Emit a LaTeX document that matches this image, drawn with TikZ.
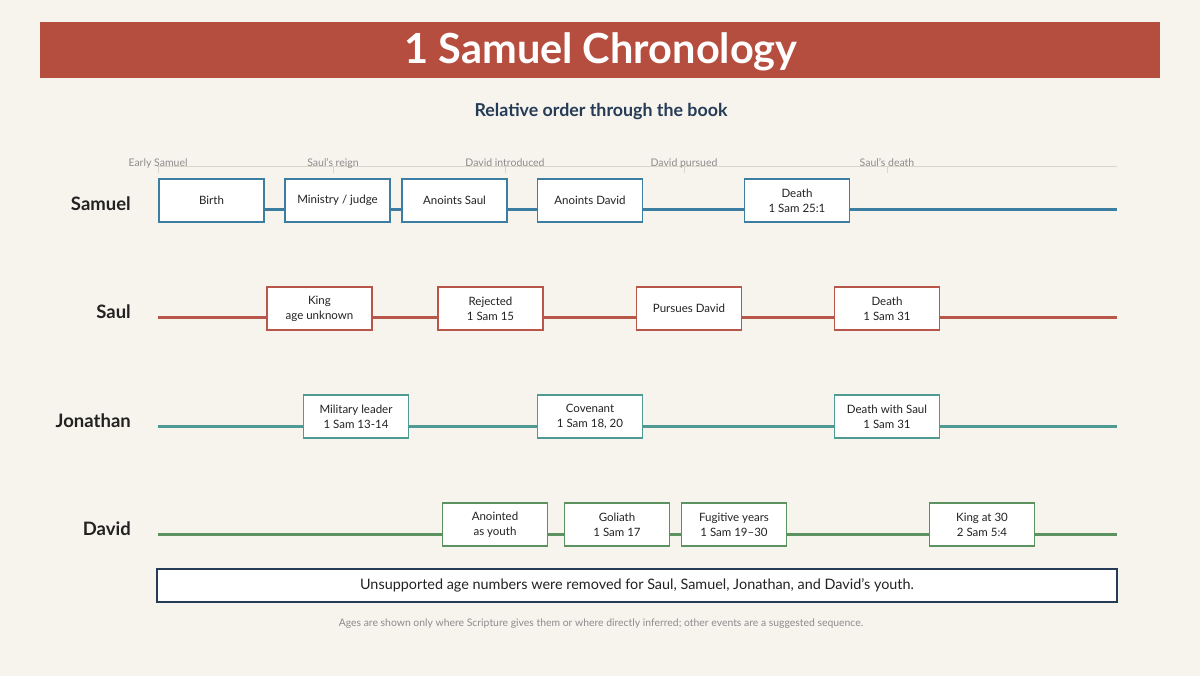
\documentclass[tikz,border=0pt]{standalone}
\usepackage{fontspec}
\setmainfont{Lato}
\definecolor{paper}{HTML}{F7F4EE}
\definecolor{banner}{HTML}{B64E40}
\definecolor{navy}{HTML}{253B56}
\definecolor{ink}{HTML}{222222}
\definecolor{rule}{HTML}{D9D5CB}
\definecolor{faint}{HTML}{8C8C8C}
\definecolor{samcol}{HTML}{3B7EA1}
\definecolor{saulcol}{HTML}{B9564A}
\definecolor{joncol}{HTML}{4F9A93}
\definecolor{davcol}{HTML}{5C9160}
\tikzset{
  event/.style={draw=#1, line width=1.5pt, fill=white, minimum width=105pt,
    minimum height=43pt, inner sep=2pt, align=center,
    font=\fontsize{11.5}{15}\selectfont, text=ink},
  lane/.style={draw=#1, line width=3pt},
  who/.style={anchor=base east, inner sep=0pt, font=\fontsize{18.5}{20}\selectfont\bfseries, text=ink},
}
\begin{document}
\begin{tikzpicture}[x=1pt,y=-1pt]
    \fill[paper] (0,0) rectangle (1200,676);
    \fill[banner] (40,22) rectangle (1160,78);
    \node[anchor=base, text=white, font=\fontsize{41.5}{44}\selectfont\bfseries] (title) at (601,64) {1 Samuel Chronology};
    \node[anchor=base, text=navy, font=\fontsize{17.8}{20}\selectfont\bfseries] (subtitle) at (601,117) {Relative order through the book};
    % phase axis
    \coordinate (axS) at (157,167);
    \coordinate (axE) at (1117,167);
    \draw[rule, line width=1pt] (axS) -- (axE);
    \foreach \x/\lbl in {158/Early Samuel, 333/Saul's reign, 505/David introduced, 684/David pursued, 887/Saul's death}
      \draw[rule, line width=1pt] (\x,167)--(\x,173) node[pos=0, anchor=base, yshift=0pt, text=faint, font=\fontsize{10.5}{12}\selectfont] {\lbl};
    % lanes
    \node[who] (samuel) at (131,211) {Samuel};
    \node[who] (saul) at (131,319) {Saul};
    \node[who] (jonathan) at (131,427) {Jonathan};
    \node[who] (david) at (131,535) {David};
    \foreach \y/\c/\n in {210/samcol/sam, 318/saulcol/saul, 426/joncol/jon, 534/davcol/dav} {
      \coordinate (\n S) at (158,\y);
      \coordinate (\n E) at (1117,\y);
      \draw[lane=\c] (\n S) -- (\n E);
    }
    % Samuel
    \node[event=samcol] (birth) at (211.5,200.5) {Birth};
    \node[event=samcol] (ministry) at (337.5,200.5) {Ministry / judge};
    \node[event=samcol] (anointsaul) at (454.5,200.5) {Anoints Saul};
    \node[event=samcol] (anointdavid) at (590,200.5) {Anoints David};
    \node[event=samcol] (samdeath) at (797,200.5) {Death\\1 Sam 25:1};
    % Saul
    \node[event=saulcol] (king) at (319.5,308.5) {King\\age unknown};
    \node[event=saulcol] (rejected) at (490.5,308.5) {Rejected\\1 Sam 15};
    \node[event=saulcol] (pursues) at (689,308.5) {Pursues David};
    \node[event=saulcol] (sauldeath) at (887,308.5) {Death\\1 Sam 31};
    % Jonathan
    \node[event=joncol] (military) at (356,416.5) {Military leader\\1 Sam 13-14};
    \node[event=joncol] (covenant) at (590,416.5) {Covenant\\1 Sam 18, 20};
    \node[event=joncol] (jondeath) at (887,416.5) {Death with Saul\\1 Sam 31};
    % David
    \node[event=davcol] (youth) at (495,524.5) {Anointed\\as youth};
    \node[event=davcol] (goliath) at (617,524.5) {Goliath\\1 Sam 17};
    \node[event=davcol] (fugitive) at (734,524.5) {Fugitive years\\1 Sam 19–30};
    \node[event=davcol] (davking) at (982,524.5) {King at 30\\2 Sam 5:4};
    % notes
    \node[draw=navy, line width=1.5pt, fill=white, minimum width=960pt, minimum height=33pt,
      font=\fontsize{14.4}{16}\selectfont, text=ink] (note) at (637,585.5)
      {Unsupported age numbers were removed for Saul, Samuel, Jonathan, and David’s youth.};
    \node[anchor=base, text=faint, font=\fontsize{10.4}{12}\selectfont] (foot) at (601,626)
      {Ages are shown only where Scripture gives them or where directly inferred; other events are a suggested sequence.};
\end{tikzpicture}
\end{document}
